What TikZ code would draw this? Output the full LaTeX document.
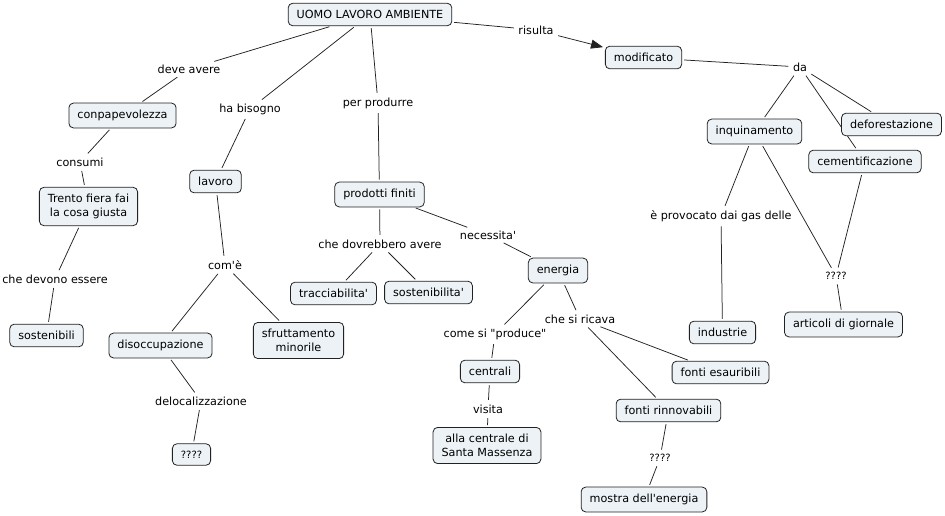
\documentclass[tikz,border=0pt]{standalone}
\usepackage{fontspec}
\setmainfont{DejaVu Sans}[Ligatures=TeXOff]
\usetikzlibrary{arrows.meta}
\pgfdeclarelayer{background}
\pgfsetlayers{background,main}
\definecolor{boxfill}{HTML}{ECF2F5}
\definecolor{linecol}{HTML}{222222}
\tikzset{
  concept/.style={draw=linecol, line width=0.8pt, fill=boxfill, rounded corners=4.5pt,
    inner xsep=8.5pt, inner ysep=7pt, align=center, font=\fontsize{11.2}{13.5}\selectfont},
  lbl/.style={inner sep=2.5pt, fill=white, font=\fontsize{11.2}{13.5}\selectfont},
  ln/.style={draw=linecol, line width=0.75pt, shorten <=2pt, shorten >=2pt},
  arr/.style={ln, -{Triangle[length=12pt,width=9pt]}}
}
\begin{document}
\begin{tikzpicture}[x=1pt,y=-1pt]
\useasboundingbox (0,0) rectangle (945,515);
% concepts
\node[concept] (U) at (370,14.5) {UOMO LAVORO AMBIENTE};
\node[concept] (mod) at (643.5,57.5) {modificato};
\node[concept] (conp) at (122.5,115.5) {conpapevolezza};
\node[concept] (lav) at (215.5,181.5) {lavoro};
\node[concept] (prod) at (379.5,194.5) {prodotti finiti};
\node[concept] (tre) at (88.5,206.5) {Trento fiera fai\\la cosa giusta};
\node[concept] (sosti) at (46.5,335.5) {sostenibili};
\node[concept] (disoc) at (160.5,345.5) {disoccupazione};
\node[concept] (sfrut) at (298.5,340.5) {sfruttamento\\minorile};
\node[concept] (trac) at (333.5,293.5) {tracciabilita'};
\node[concept] (sostb) at (428.5,292.5) {sostenibilita'};
\node[concept, font=\fontsize{10}{12}\selectfont] (q1) at (191.5,454.5) {????};
\node[concept] (ene) at (558,270.5) {energia};
\node[concept] (cen) at (490,371.5) {centrali};
\node[concept] (alla) at (487,445.5) {alla centrale di\\Santa Massenza};
\node[concept] (fr) at (668.5,410.5) {fonti rinnovabili};
\node[concept] (fe) at (720.5,372.5) {fonti esauribili};
\node[concept] (most) at (644,499.5) {mostra dell'energia};
\node[concept] (ind) at (722.5,332.5) {industrie};
\node[concept] (art) at (843.5,324.5) {articoli di giornale};
\node[concept] (inq) at (754.5,131.5) {inquinamento};
\node[concept] (def) at (891.5,124.5) {deforestazione};
\node[concept] (cem) at (865,161.5) {cementificazione};
% linking phrases
\node[lbl] (l1) at (189,69) {deve avere};
\node[lbl] (l2) at (250,109) {ha bisogno};
\node[lbl] (l3) at (378,103) {per produrre};
\node[lbl] (l4) at (536,30) {risulta};
\node[lbl] (l5) at (80,162) {consumi};
\node[lbl] (l6) at (225,265) {com'è};
\node[lbl] (l7) at (380,244) {che dovrebbero avere};
\node[lbl] (l8) at (488,235) {necessita'};
\node[lbl] (l9) at (55,279) {che devono essere};
\node[lbl] (l10) at (201,401) {delocalizzazione};
\node[lbl] (l11) at (495,334) {come si "produce"};
\node[lbl] (l12) at (580,319) {che si ricava};
\node[lbl] (l13) at (488,409) {visita};
\node[lbl, font=\fontsize{10}{12}\selectfont] (l14) at (660,458) {????};
\node[lbl] (l15) at (800,67) {da};
\node[lbl] (l16) at (721,216) {è provocato dai gas delle};
\node[lbl, font=\fontsize{10}{12}\selectfont] (l17) at (836,276) {????};
% connectors
\begin{pgfonlayer}{background}
\draw[ln] (U) -- (l1);
\draw[ln] (l1) -- (conp);
\draw[ln] (U) -- (l2);
\draw[ln] (l2) -- (lav);
\draw[ln] (U) -- (l3);
\draw[ln] (l3) -- (prod);
\draw[ln] (U) -- (l4);
\draw[arr] (l4) -- (mod);
\draw[ln] (conp) -- (l5);
\draw[ln] (l5) -- (tre);
\draw[ln] (tre) -- (l9);
\draw[ln] (l9) -- (sosti);
\draw[ln] (lav) -- (l6);
\draw[ln] (l6) -- (disoc);
\draw[ln] (l6) -- (sfrut);
\draw[ln] (disoc) -- (l10);
\draw[ln] (l10) -- (q1);
\draw[ln] (prod) -- (l7);
\draw[ln] (l7) -- (trac);
\draw[ln] (l7) -- (sostb);
\draw[ln] (prod) -- (l8);
\draw[ln] (l8) -- (ene);
\draw[ln] (ene) -- (l11);
\draw[ln] (l11) -- (cen);
\draw[ln] (ene) -- (l12);
\draw[ln] (l12) -- (fe);
\draw[ln] (l12) -- (fr);
\draw[ln] (cen) -- (l13);
\draw[ln] (l13) -- (alla);
\draw[ln] (fr) -- (l14);
\draw[ln] (l14) -- (most);
\draw[ln] (mod) -- (l15);
\draw[ln] (l15) -- (inq);
\draw[ln] (l15) -- (def);
\draw[ln] (l15) -- (cem);
\draw[ln] (inq) -- (l16);
\draw[ln] (l16) -- (ind);
\draw[ln] (inq) -- (l17);
\draw[ln] (cem) -- (l17);
\draw[ln] (l17) -- (art);
\end{pgfonlayer}
\end{tikzpicture}
\end{document}
